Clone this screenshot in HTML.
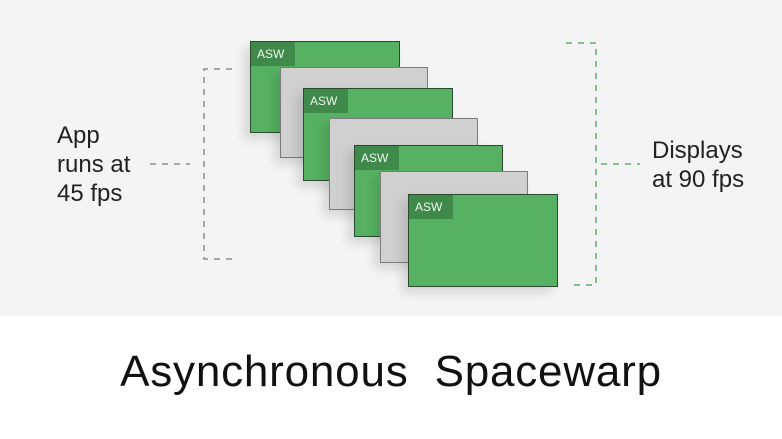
<!DOCTYPE html>
<html><head><style>
html,body{margin:0;padding:0;}
body{width:782px;height:439px;background:#fff;position:relative;overflow:hidden;font-family:"Liberation Sans",sans-serif;}
.bg{position:absolute;left:0;top:0;width:782px;height:316px;background:#f3f4f3;}
.box{position:absolute;box-sizing:border-box;border:1.5px solid #2c4a30;box-shadow:-6px 6px 10px rgba(0,0,0,0.12);}
.g{background:#56b262;}
.s{background:#cfd0cf;border-color:#7a7d80;}
.lab{position:absolute;left:0;top:0;width:44px;height:24px;background:#3f8a4a;font-size:12px;line-height:24px;text-indent:6px;color:#f0f5f0;}
.t{position:absolute;color:#222;font-size:24px;line-height:29px;}
</style></head><body>
<div class="bg"></div>
<svg width="782" height="439" style="position:absolute;left:0;top:0">
<g fill="none" stroke-width="1.5" stroke-dasharray="6,6">
<path d="M232 69 H204 V259 H232" stroke="#8a8d8f"/>
<path d="M150 164 H190" stroke="#8a8d8f"/>
<path d="M566 43 H596 V285 H570" stroke="#5fae6e"/>
<path d="M601 164 H640" stroke="#5fae6e"/>
</g>
</svg>
<div class="box g" style="left:250px;top:41px;width:150px;height:92px"><div class="lab">ASW</div></div>
<div class="box s" style="left:280px;top:67px;width:148px;height:91px"></div>
<div class="box g" style="left:303px;top:88px;width:150px;height:93px"><div class="lab">ASW</div></div>
<div class="box s" style="left:329px;top:118px;width:149px;height:92px"></div>
<div class="box g" style="left:354px;top:145px;width:149px;height:92px"><div class="lab">ASW</div></div>
<div class="box s" style="left:380px;top:171px;width:148px;height:92px"></div>
<div class="box g" style="left:408px;top:194px;width:150px;height:93px"><div class="lab">ASW</div></div>
<div class="t" style="left:57px;top:121px">App<br>runs at<br>45 fps</div>
<div class="t" style="left:652px;top:136px">Displays<br>at 90 fps</div>
<div style="position:absolute;left:0;width:782px;top:343px;text-align:center;font-size:44px;line-height:58px;color:#111;letter-spacing:0.8px">Asynchronous&nbsp; Spacewarp</div>
</body></html>
